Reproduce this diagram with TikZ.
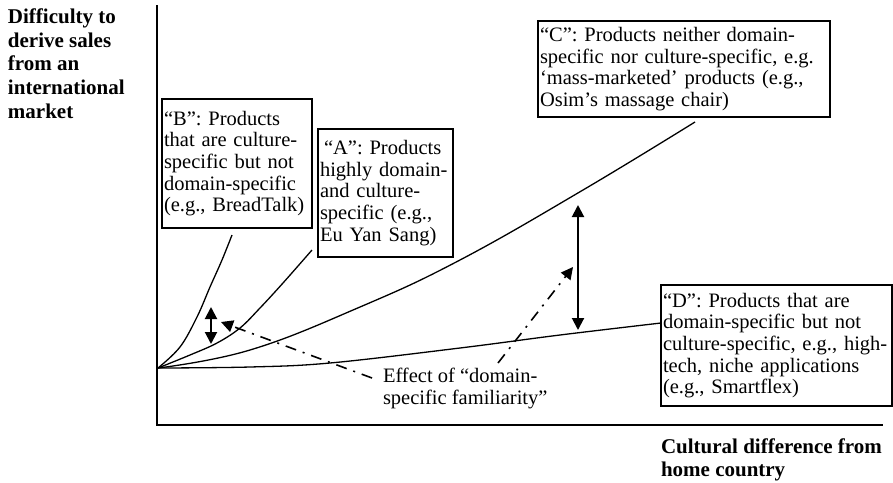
\documentclass[tikz,border=0pt]{standalone}
\usepackage{fontspec}
\setmainfont{Liberation Serif}
\usetikzlibrary{arrows.meta}
\begin{document}
\begin{tikzpicture}[x=1pt,y=-1pt,
  every node/.style={inner sep=0pt, outer sep=0pt},
  boxtext/.style={draw, line width=1.5pt, anchor=north west, align=left,
    inner xsep=2pt, inner ysep=0pt, font=\fontsize{20.5}{21.7}\selectfont},
  plaintext/.style={anchor=north west, align=left, font=\fontsize{20.5}{21.7}\selectfont},
  axistitle/.style={anchor=north west, align=left, font=\fontsize{21}{23.6}\selectfont\bfseries},
  axisline/.style={line width=2pt},
  curve/.style={line width=1.3pt},
  gaparrow/.style={line width=2pt, {Triangle[length=12pt,width=12pt]}-{Triangle[length=12pt,width=12pt]}},
  effect/.style={line width=1.6pt, dash pattern=on 11pt off 7pt on 2pt off 7pt,
    -{Triangle[length=12pt,width=12pt]}}
]
\useasboundingbox (0,0) rectangle (893,482);

% axes
\coordinate (O) at (158,368);
\coordinate (ytop) at (157,5);
\coordinate (corner) at (157,425);
\coordinate (xend) at (883,425);
\draw[axisline] (ytop) -- (corner) -- (xend);

% axis titles
\node[axistitle] (ytitle) at (8,9) {Difficulty to\\derive sales\\from an\\international\\market};
\node[axistitle] (xtitle) at (661,438.5) {Cultural difference from\\home country};

% boxes
\node[boxtext, text width=146pt, minimum height=129pt] (B) at (162,99)
  {“B”: Products\\that are culture-\\specific but not\\domain-specific\\(e.g., BreadTalk)};
\node[boxtext, text width=131pt, minimum height=128pt] (A) at (318,129)
  {\hspace*{4pt}“A”: Products\\highly domain-\\and culture-\\specific (e.g.,\\Eu Yan Sang)};
\node[boxtext, text width=288pt, minimum height=96pt] (C) at (538,21)
  {“C”: Products neither domain-\\specific nor culture-specific, e.g.\\‘mass-marketed’ products (e.g.,\\Osim’s massage chair)};
\node[boxtext, text width=227pt, minimum height=121pt] (D) at (661,285)
  {“D”: Products that are\\domain-specific but not\\culture-specific, e.g., high-\\tech, niche applications\\(e.g., Smartflex)};

% curve end points
\coordinate (bEnd) at (232,235);
\coordinate (aEnd) at (312,250);
\coordinate (cEnd) at (695,122);
\coordinate (dEnd) at (661,323);

\draw[curve] plot[smooth, tension=0.6] coordinates
  {(O) (180,347) (197,317) (210,287) (222,260) (bEnd)};
\draw[curve] plot[smooth, tension=0.6] coordinates
  {(O) (190,355) (217,343) (240,328) (260,308) (283,283) (aEnd)};
\draw[curve] plot[smooth, tension=0.7] coordinates
  {(O) (250,350) (360,307) (460,260) (583,190) (cEnd)};
\draw[curve] plot[smooth, tension=0.6] coordinates
  {(O) (250,367) (330,363) (460,348) (560,335) (dEnd)};

% gap arrows
\coordinate (g1t) at (211,307);
\coordinate (g1b) at (211,344);
\coordinate (g2t) at (578,205);
\coordinate (g2b) at (578,330);
\draw[gaparrow] (g1t) -- (g1b);
\draw[gaparrow] (g2t) -- (g2b);

% effect label and arrows
\node[plaintext] (E) at (383,368) {Effect of “domain-\\specific familiarity”};
\coordinate (e1s) at (372,378);
\coordinate (e1t) at (221,322);
\coordinate (e2s) at (498,363);
\coordinate (e2t) at (573,267);
\draw[effect] (e1s) -- (e1t);
\draw[effect] (e2s) -- (e2t);
\end{tikzpicture}
\end{document}
